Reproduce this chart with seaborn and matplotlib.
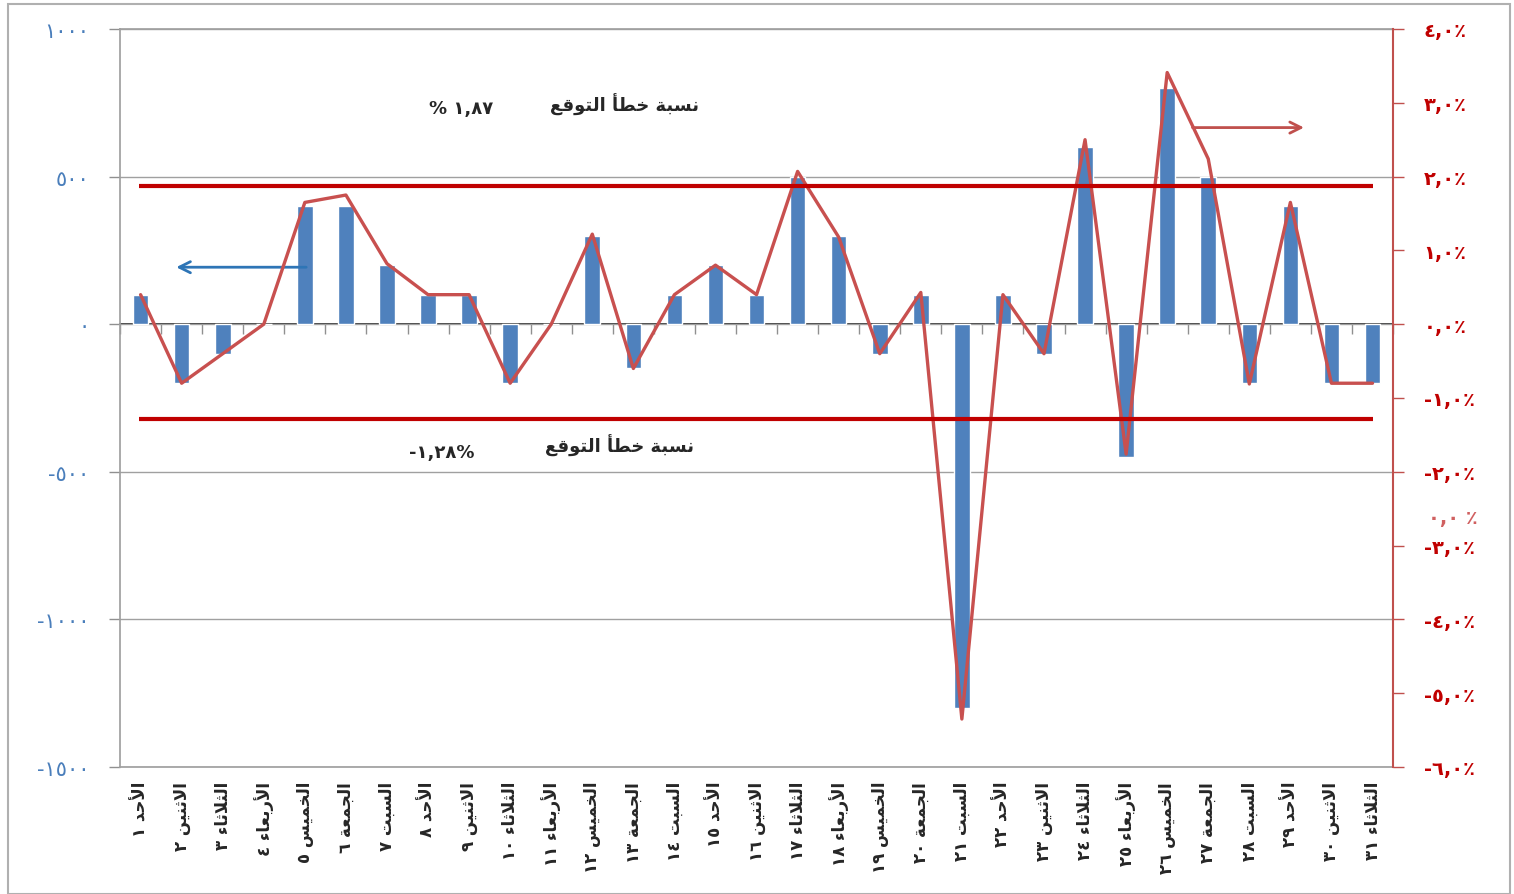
import numpy as np
import pandas as pd
import seaborn as sns
import matplotlib.pyplot as plt
from matplotlib.patches import Rectangle
from matplotlib.transforms import blended_transform_factory

sns.set_theme(style='white')
plt.rcParams['font.family'] = ['DejaVu Sans']

# data
week = ['الأحد', 'الاثنين', 'الثلاثاء', 'الأربعاء', 'الخميس', 'الجمعة', 'السبت']
days = list(range(1, 32))
diff = [100, -200, -100, 0, 400, 400, 200, 100, 100, -200,
        0, 300, -150, 100, 200, 100, 500, 300, -100, 100,
        -1300, 100, -100, 600, -450, 800, 500, -200, 400, -200,
        -200]
error_pct = [0.4, -0.8, -0.4, 0, 1.65, 1.75, 0.82, 0.4, 0.4, -0.8,
             0, 1.22, -0.6, 0.4, 0.8, 0.4, 2.07, 1.18, -0.4, 0.43,
             -5.35, 0.4, -0.4, 2.5, -1.76, 3.41, 2.24, -0.81, 1.65, -0.8,
             -0.8]
upper_err = 1.87
lower_err = -1.28
left_ticks = [1000, 500, 0, -500, -1000, -1500]
left_labels = ['١٠٠٠', '٥٠٠', '٠', '-٥٠٠', '-١٠٠٠', '-١٥٠٠']
right_ticks = [4, 3, 2, 1, 0, -1, -2, -3, -4, -5, -6]
right_labels = ['٤,٠٪', '٣,٠٪', '٢,٠٪', '١,٠٪', '٠,٠٪', '-١,٠٪',
                '-٢,٠٪', '-٣,٠٪', '-٤,٠٪', '-٥,٠٪', '-٦,٠٪']
note_text = 'نسبة خطأ التوقع'
upper_label = '% ١,٨٧'
lower_label = '-١,٢٨%'

# minimal arabic shaping (matplotlib has no bidi / joining)
FORMS = {
    '\u0621': '\uFE80', '\u0623': '\uFE83\uFE84', '\u0627': '\uFE8D\uFE8E',
    '\u0628': '\uFE8F\uFE90\uFE91\uFE92', '\u0629': '\uFE93\uFE94',
    '\u062A': '\uFE95\uFE96\uFE97\uFE98', '\u062B': '\uFE99\uFE9A\uFE9B\uFE9C',
    '\u062C': '\uFE9D\uFE9E\uFE9F\uFEA0', '\u062D': '\uFEA1\uFEA2\uFEA3\uFEA4',
    '\u062E': '\uFEA5\uFEA6\uFEA7\uFEA8', '\u062F': '\uFEA9\uFEAA',
    '\u0631': '\uFEAD\uFEAE', '\u0633': '\uFEB1\uFEB2\uFEB3\uFEB4',
    '\u0637': '\uFEC1\uFEC2\uFEC3\uFEC4', '\u0639': '\uFEC9\uFECA\uFECB\uFECC',
    '\u0642': '\uFED5\uFED6\uFED7\uFED8', '\u0644': '\uFEDD\uFEDE\uFEDF\uFEE0',
    '\u0645': '\uFEE1\uFEE2\uFEE3\uFEE4', '\u0646': '\uFEE5\uFEE6\uFEE7\uFEE8',
    '\u0648': '\uFEED\uFEEE', '\u064A': '\uFEF1\uFEF2\uFEF3\uFEF4',
    'LA\u0627': '\uFEFB\uFEFC', 'LA\u0623': '\uFEF7\uFEF8',
}


def shape(text):
    toks = []
    i = 0
    while i < len(text):
        if text[i] == '\u0644' and i + 1 < len(text) and text[i + 1] in '\u0627\u0623':
            toks.append('LA' + text[i + 1])
            i += 2
        else:
            toks.append(text[i])
            i += 1
    out = []
    for k, t in enumerate(toks):
        f = FORMS.get(t)
        if f is None:
            out.append(t)
            continue
        prev_j = k > 0 and len(FORMS.get(toks[k - 1], '')) == 4 and len(f) > 1
        next_j = len(f) == 4 and k + 1 < len(toks) and len(FORMS.get(toks[k + 1], '')) > 1
        idx = {(False, False): 0, (True, False): 1, (False, True): 2, (True, True): 3}[(prev_j, next_j)]
        out.append(f[idx])
    return ''.join(out)[::-1]


to_ar = str.maketrans('0123456789', '٠١٢٣٤٥٦٧٨٩')
labels = [str(d).translate(to_ar) + ' ' + shape(week[(d - 1) % 7]) for d in days]

df = pd.DataFrame({'day': days, 'diff': diff, 'pct': error_pct})
pos = df.index.to_numpy()

fig = plt.figure(figsize=(15.14, 8.95), dpi=100)
ax = fig.add_axes([0.0793, 0.1419, 0.8408, 0.8246])

sns.barplot(data=df, x='day', y='diff', color='#4F81BD', saturation=1, width=0.38, ax=ax)
ax.set_xlim(-0.5, 30.5)
ax.set_ylim(-1500, 1000)
ax.set_xlabel('')
ax.set_ylabel('')
ax.set_yticks(left_ticks)
ax.set_yticklabels(left_labels, color='#4a7ebb', fontsize=15)
ax.yaxis.grid(True, color='#a0a0a0', lw=1)
ax.xaxis.grid(False)
ax.tick_params(axis='y', length=8, width=1, color='#909090', pad=14, left=True)
ax.set_xticks(pos)
ax.set_xticklabels(labels, rotation=90, fontweight='bold', fontsize=12, va='top')
ax.tick_params(axis='x', length=0, pad=10)
for s in ['left', 'top', 'bottom']:
    ax.spines[s].set_color('#a0a0a0')
ax.spines['right'].set_visible(False)

# zero line with category separators pointing down
zero = ax.secondary_xaxis(0.6)
zero.set_xticks([])
zero.set_xticks(np.arange(-0.5, 31, 1), minor=True)
zero.tick_params(which='minor', length=7, color='#909090', direction='in')
zero.spines['bottom'].set_color('#909090')

ax2 = ax.twinx()
sns.lineplot(x=pos, y=df['pct'], color='#C8504F', lw=2.4, ax=ax2)
ax2.hlines([upper_err, lower_err], -0.05, 30.02, color='#C00000', lw=3)
ax2.set_ylim(-6, 4)
ax2.set_ylabel('')
ax2.set_yticks(right_ticks)
ax2.set_yticklabels(right_labels, color='#C00000', fontweight='bold', fontsize=14)
ax2.tick_params(axis='y', length=8, width=1, color='#C0504D', pad=14, right=True)
ax2.grid(False)
for s in ['left', 'top', 'bottom']:
    ax2.spines[s].set_visible(False)
ax2.spines['right'].set_color('#C0504D')
ax2.spines['right'].set_linewidth(1.5)

tr = blended_transform_factory(ax2.transAxes, ax2.transData)
ax2.text(1.0275, -2.62, '٠,٠ ٪', transform=tr, color='#d06060',
         fontweight='bold', fontsize=14, ha='left', va='center')

# notes
ax.text(11.78, 747, shape(note_text), fontweight='bold', fontsize=13, ha='center', va='center')
ax.text(7.8, 733, upper_label, fontweight='bold', fontsize=13, ha='center', va='center')
ax.text(11.66, -409, shape(note_text), fontweight='bold', fontsize=13, ha='center', va='center')
ax.text(7.34, -432, lower_label, fontweight='bold', fontsize=13, ha='center', va='center')

ax.annotate('', xy=(0.8, 193), xytext=(4.1, 193),
            arrowprops=dict(arrowstyle='->', color='#2E75B6', lw=2, mutation_scale=20))
ax.annotate('', xy=(28.4, 666), xytext=(25.55, 666),
            arrowprops=dict(arrowstyle='->', color='#C0504D', lw=2, mutation_scale=20))

fig.patches.append(Rectangle((8 / 1514, 0), 1502 / 1514, 1 - 5 / 895, transform=fig.transFigure,
                             fill=False, ec='#b0b0b0', lw=1.5))

fig.savefig('out.png', dpi=100)
